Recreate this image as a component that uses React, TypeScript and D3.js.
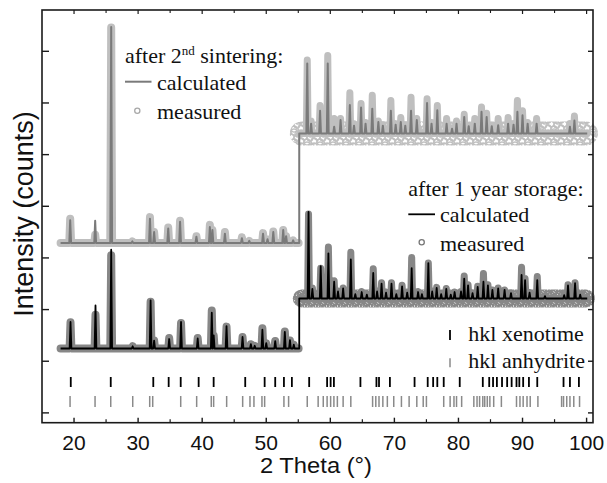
import React from "react";
import * as d3 from "d3";

type Peak = [number, number, number]; // [2θ position, calculated top, measured top]

const W = 607;
const H = 483;

const xMajorTicks = [20, 30, 40, 50, 60, 70, 80, 90, 100];
const xMinorTicks = [25, 35, 45, 55, 65, 75, 85, 95];
const yTicks = [0, 1000, 2000, 3000, 4000, 5000, 6000, 7000];

const rangeStart = 17.9;
const breakAt = 55.15;
const rangeEnd = 100.1;

// baselines (low-angle part, high-angle offset part)
const storageBase = [1247, 2215];
const sinterBase = [3291, 5409];

// after 1 year storage, 18-55°
const storagePeaksA: Peak[] = [
  [19.45, 1760, 1755], [23.35, 2080, 1900], [25.8, 3160, 3050], [29.15, 1290, 1290],
  [31.95, 2180, 2150], [32.5, 1400, 1400], [34.85, 1430, 1450], [36.7, 1760, 1740],
  [39.3, 1440, 1450], [41.5, 1940, 1980], [41.8, 1500, 1500], [43.8, 1680, 1670],
  [46.3, 1470, 1470], [47.6, 1330, 1330], [48.2, 1300, 1300], [49.4, 1610, 1640],
  [50.0, 1350, 1350], [51.4, 1390, 1390], [52.9, 1570, 1575], [53.7, 1410, 1400],
  [54.3, 1320, 1320],
];
// after 1 year storage, 55-100° (offset)
const storagePeaksB: Peak[] = [
  [56.6, 3890, 3850], [57.2, 2400, 2420], [58.5, 2840, 2800], [59.7, 3090, 3210],
  [60.6, 2540, 2560], [61.2, 2350, 2360], [62.0, 2410, 2420], [63.2, 2970, 3110],
  [63.9, 2300, 2310], [64.9, 2340, 2350], [65.7, 2290, 2300], [66.7, 2710, 2790],
  [67.3, 2350, 2360], [68.0, 2500, 2520], [68.7, 2330, 2340], [69.55, 2500, 2520],
  [70.3, 2300, 2310], [71.2, 2450, 2470], [72.0, 2330, 2340], [72.7, 2800, 3010],
  [73.7, 2340, 2350], [74.3, 2300, 2300], [75.3, 2900, 2900], [75.9, 2350, 2360],
  [76.6, 2420, 2430], [77.3, 2300, 2300], [78.1, 2400, 2410], [78.8, 2290, 2290],
  [79.4, 2340, 2340], [80.4, 2350, 2350], [80.9, 2600, 2650], [81.5, 2470, 2480],
  [82.2, 2320, 2320], [83.0, 2440, 2450], [83.9, 2540, 2700], [84.6, 2470, 2480],
  [85.3, 2380, 2380], [86.2, 2410, 2420], [87.2, 2380, 2380], [88.2, 2320, 2320],
  [89.85, 2670, 2820], [90.4, 2570, 2600], [91.1, 2330, 2330], [92.3, 2570, 2640],
  [93.5, 2260, 2260], [96.5, 2280, 2280], [97.1, 2470, 2480], [98.2, 2510, 2520],
  [99.0, 2290, 2290],
];
// after 2nd sintering, 18-55°
const sinterPeaksA: Peak[] = [
  [19.4, 3730, 3760], [23.3, 3720, 3450], [25.8, 7470, 7460], [29.1, 3320, 3320],
  [31.85, 3760, 3790], [32.5, 3500, 3500], [34.7, 3570, 3590], [36.55, 3700, 3720],
  [39.1, 3410, 3420], [41.2, 3600, 3640], [41.6, 3540, 3540], [43.55, 3470, 3500],
  [46.2, 3380, 3400], [47.35, 3330, 3330], [49.5, 3470, 3480], [50.2, 3360, 3360],
  [51.1, 3500, 3510], [52.65, 3540, 3540], [53.1, 3420, 3420], [54.2, 3340, 3340],
];
// after 2nd sintering, 55-100° (offset)
const sinterPeaksB: Peak[] = [
  [56.4, 6765, 6830], [57.0, 5600, 5650], [58.4, 5850, 5950], [59.6, 6765, 6920],
  [60.6, 5540, 5700], [61.6, 5670, 5700], [63.05, 5960, 6200], [63.7, 5560, 5600],
  [64.8, 5910, 5990], [65.5, 5600, 5620], [66.55, 5890, 6150], [67.5, 5630, 5650],
  [68.2, 5560, 5580], [69.45, 5850, 6050], [70.2, 5580, 5600], [71.0, 5630, 5720],
  [71.7, 5560, 5580], [72.6, 5850, 6110], [73.5, 5670, 5700], [75.1, 6000, 6080],
  [75.8, 5600, 5620], [76.7, 5860, 5950], [78.15, 5600, 5700], [79.0, 5500, 5520],
  [79.7, 5600, 5650], [80.9, 5730, 5780], [81.6, 5550, 5570], [82.55, 5600, 5700],
  [83.6, 5830, 5920], [84.4, 5730, 5800], [85.2, 5550, 5570], [86.2, 5570, 5700],
  [87.75, 5600, 5720], [88.6, 5580, 5600], [89.2, 5830, 6050], [90.0, 5760, 5850],
  [90.8, 5600, 5620], [92.2, 5600, 5700], [97.4, 5540, 5600], [98.1, 5660, 5750],
];

const hklXenotime = [
  19.49, 25.73, 32.37, 34.77, 36.65, 39.45, 41.79, 46.72, 49.75, 51.4, 52.76, 54.0,
  56.7, 59.5, 60.05, 60.56, 64.7, 67.2, 67.6, 69.3, 73.15, 75.2, 76.05, 76.7, 77.7,
  80.2, 83.8, 84.8, 85.4, 86.0, 86.8, 87.6, 88.3, 89.06, 89.5, 90.1, 91.0, 92.3,
  96.4, 97.4, 98.8,
];
const hklAnhydrite = [
  19.38, 23.28, 25.73, 29.16, 31.81, 32.28, 36.65, 39.14, 41.42, 41.79, 43.82, 46.32,
  47.46, 48.08, 49.33, 49.75, 52.76, 53.49, 56.4, 58.1, 58.9, 59.5, 60.05, 60.56,
  61.1, 62.0, 63.2, 66.6, 67.1, 67.6, 68.2, 68.9, 69.9, 71.1, 72.3, 73.5, 74.5, 75.0,
  77.7, 78.7, 79.3, 79.7, 80.5, 82.4, 82.9, 83.3, 83.8, 84.1, 84.5, 84.9, 85.5, 86.7,
  89.06, 89.6, 90.1, 90.7, 91.2, 92.4, 96.1, 96.4, 96.9, 97.4, 98.0, 98.9,
];

const PL = 42, PR = 593, PT = 10, PB = 422.7;
const HW = 0.14;

const x = d3.scaleLinear().domain([15, 101]).range([PL, PR]);
const y = d3.scaleLinear().domain([-190, 7800]).range([PB, PT]);

function segment(peaks: Peak[], base: number, from: number, to: number, idx: 1 | 2): [number, number][] {
  const pts: [number, number][] = [[from, base]];
  [...peaks].sort((a, b) => a[0] - b[0]).forEach((p) => {
    pts.push([p[0] - HW, base], [p[0], p[idx]], [p[0] + HW, base]);
  });
  pts.push([to, base]);
  return pts;
}

const line = d3
  .line<[number, number]>()
  .x((d) => x(d[0]))
  .y((d) => y(d[1]));

// decorative ring texture for the scatter of the measured points
function ringPattern(id: string, tile: number, centres: number[][], color: string, sw: number) {
  const circles: JSX.Element[] = [];
  centres.forEach((c, i) => {
    for (const dx of [-tile, 0, tile]) {
      for (const dy of [-tile, 0, tile]) {
        circles.push(
          <circle key={i + "_" + dx + "_" + dy} cx={c[0] + dx} cy={c[1] + dy} r={3} fill="none" stroke={color} strokeWidth={sw} />
        );
      }
    }
  });
  return (
    <pattern id={id} width={tile} height={tile} patternUnits="userSpaceOnUse">
      {circles}
    </pattern>
  );
}

const serif = "'Liberation Serif', 'Times New Roman', serif";
const sans = "'Liberation Sans', Arial, sans-serif";

export default function App() {
  const sinterCalc = line([
    ...segment(sinterPeaksA, sinterBase[0], rangeStart, breakAt, 1),
    ...segment(sinterPeaksB, sinterBase[1], breakAt, rangeEnd, 1),
  ])!;
  const storageCalc = line([
    ...segment(storagePeaksA, storageBase[0], rangeStart, breakAt, 1),
    ...segment(storagePeaksB, storageBase[1], breakAt, rangeEnd, 1),
  ])!;
  const sinterMeasA = line(segment(sinterPeaksA, sinterBase[0], rangeStart, breakAt - 0.1, 2))!;
  const sinterMeasB = line(segment(sinterPeaksB, sinterBase[1], breakAt + 0.1, rangeEnd, 2))!;
  const storageMeasA = line(segment(storagePeaksA, storageBase[0], rangeStart, breakAt - 0.1, 2))!;
  const storageMeasB = line(segment(storagePeaksB, storageBase[1], breakAt + 0.1, rangeEnd, 2))!;
  const sinterScatterB = line([[breakAt + 0.4, sinterBase[1]], [rangeEnd - 0.2, sinterBase[1]]])!;
  const storageScatterB = line([[breakAt + 0.4, storageBase[1]], [rangeEnd - 0.2, storageBase[1]]])!;

  const lightGray = "#bfbfbf";
  const midGray = "#878787";
  const calcGray = "#7a7a7a";
  const axis = "#1a1a1a";

  return (
    <svg width={W} height={H} style={{ display: "block", position: "absolute", left: 0, top: 0 }}>
      <defs>
        {ringPattern("ringsLight", 13, [[2, 3], [8, 2], [5, 7], [11, 8], [2, 11], [8, 12], [12, 4]], lightGray, 1.3)}
        {ringPattern("ringsDark", 11, [[2, 2], [7, 3], [4, 6], [9, 8], [1, 9], [6, 10], [10, 5]], midGray, 1.5)}
      </defs>
      <rect x={0} y={0} width={W} height={H} fill="#fff" />

      {/* after 2nd sintering */}
      <path d={sinterScatterB} fill="none" stroke="url(#ringsLight)" strokeWidth={24} strokeLinecap="round" />
      <path d={sinterMeasA} fill="none" stroke={lightGray} strokeWidth={8} strokeLinejoin="round" strokeLinecap="round" />
      <path d={sinterMeasB} fill="none" stroke={lightGray} strokeWidth={7} strokeLinejoin="round" strokeLinecap="round" />
      <path d={sinterCalc} fill="none" stroke={calcGray} strokeWidth={2} strokeLinejoin="round" />

      {/* after 1 year storage */}
      <path d={storageScatterB} fill="none" stroke="url(#ringsDark)" strokeWidth={18} strokeLinecap="round" />
      <path d={storageMeasA} fill="none" stroke={midGray} strokeWidth={8} strokeLinejoin="round" strokeLinecap="round" />
      <path d={storageMeasB} fill="none" stroke={midGray} strokeWidth={7} strokeLinejoin="round" strokeLinecap="round" />
      <path d={storageCalc} fill="none" stroke="#000" strokeWidth={1.8} strokeLinejoin="round" />

      {/* hkl markers */}
      {hklXenotime.map((v, i) => (
        <line key={"x" + i} x1={x(v)} x2={x(v)} y1={377} y2={387} stroke="#000" strokeWidth={1.8} />
      ))}
      {hklAnhydrite.map((v, i) => (
        <line key={"a" + i} x1={x(v)} x2={x(v)} y1={396} y2={407} stroke="#8a8a8a" strokeWidth={1.5} />
      ))}

      {/* frame & ticks */}
      <rect x={PL} y={PT} width={PR - PL} height={PB - PT} fill="none" stroke={axis} strokeWidth={1.6} />
      {xMajorTicks.map((v) => (
        <g key={"xm" + v}>
          <line x1={x(v)} x2={x(v)} y1={PB} y2={PB - 5} stroke={axis} strokeWidth={1.4} />
          <line x1={x(v)} x2={x(v)} y1={PT} y2={PT + 4} stroke={axis} strokeWidth={1.2} />
          <text x={x(v)} y={450} textAnchor="middle" fontFamily={sans} fontSize={21} fill="#111">
            {v}
          </text>
        </g>
      ))}
      {xMinorTicks.map((v) => (
        <g key={"xn" + v}>
          <line x1={x(v)} x2={x(v)} y1={PB} y2={PB - 3.5} stroke={axis} strokeWidth={1.2} />
          <line x1={x(v)} x2={x(v)} y1={PT} y2={PT + 3} stroke={axis} strokeWidth={1.1} />
        </g>
      ))}
      {yTicks.map((v) => (
        <g key={"y" + v}>
          <line x1={PL} x2={PL + 7} y1={y(v)} y2={y(v)} stroke={axis} strokeWidth={1.4} />
          <line x1={PR} x2={PR - 5} y1={y(v)} y2={y(v)} stroke={axis} strokeWidth={1.4} />
        </g>
      ))}

      {/* axis titles */}
      <text x={316} y={473} textAnchor="middle" fontFamily={sans} fontSize={22} fill="#111" textLength={112} lengthAdjust="spacingAndGlyphs">
        2 Theta (°)
      </text>
      <text transform="translate(33,214) rotate(-90)" textAnchor="middle" fontFamily={sans} fontSize={27} fill="#111">
        Intensity (counts)
      </text>

      {/* legend: after 2nd sintering */}
      <text x={125} y={63} fontFamily={serif} fontSize={22} fill="#111">
        after 2<tspan fontSize={13} dy={-8}>nd</tspan>
        <tspan dy={8}> sintering:</tspan>
      </text>
      <line x1={125} x2={151.5} y1={81.7} y2={81.7} stroke={calcGray} strokeWidth={2} />
      <text x={157} y={90} fontFamily={serif} fontSize={22} fill="#111">calculated</text>
      <circle cx={137.3} cy={110.7} r={2.6} fill="none" stroke="#a8a8a8" strokeWidth={1.3} />
      <text x={157} y={119} fontFamily={serif} fontSize={22} fill="#111">measured</text>

      {/* legend: after 1 year storage */}
      <text x={408.3} y={196} fontFamily={serif} fontSize={22} fill="#111">after 1 year storage:</text>
      <line x1={408.3} x2={435} y1={214.3} y2={214.3} stroke="#000" strokeWidth={1.8} />
      <text x={440} y={222} fontFamily={serif} fontSize={22} fill="#111">calculated</text>
      <circle cx={421.7} cy={242.3} r={2.6} fill="none" stroke="#777" strokeWidth={1.3} />
      <text x={440} y={250.5} fontFamily={serif} fontSize={22} fill="#111">measured</text>

      {/* legend: hkl */}
      <line x1={450} x2={450} y1={330} y2={340} stroke="#000" strokeWidth={1.8} />
      <text x={468.3} y={341} fontFamily={serif} fontSize={22} fill="#111">hkl xenotime</text>
      <line x1={450} x2={450} y1={358.3} y2={367.3} stroke="#8a8a8a" strokeWidth={1.5} />
      <text x={468.3} y={368.3} fontFamily={serif} fontSize={22} fill="#111">hkl anhydrite</text>
    </svg>
  );
}
